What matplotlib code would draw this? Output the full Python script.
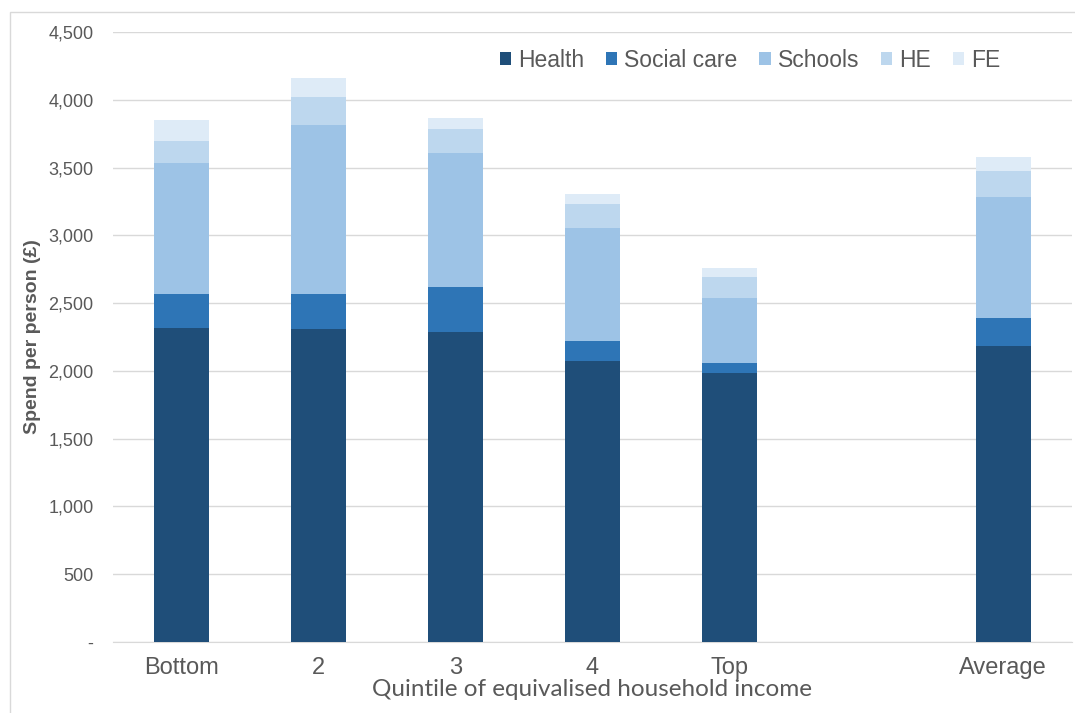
import numpy as np
import matplotlib.pyplot as plt
from matplotlib.patches import Rectangle

# spend per person (GBP) by income quintile, stacked by service
groups = ['Bottom', '2', '3', '4', 'Top', '', 'Average']
health = [2316, 2308, 2286, 2072, 1984, 0, 2183]
social_care = [250, 258, 332, 148, 74, 0, 206]
schools = [966, 1247, 988, 833, 479, 0, 893]
higher_ed = [163, 206, 177, 177, 155, 0, 191]
further_ed = [155, 141, 81, 74, 66, 0, 104]

series = [
    ('Health', health, '#1f4e79'),
    ('Social care', social_care, '#2e75b6'),
    ('Schools', schools, '#9dc3e6'),
    ('HE', higher_ed, '#bdd7ee'),
    ('FE', further_ed, '#deebf7'),
]

grey = '#595959'
fig = plt.figure(figsize=(10.75, 7.13), dpi=100)
ax = fig.add_axes([0.105, 0.0996, 0.892, 0.8555])

x = np.arange(len(groups))
bottom = np.zeros(len(groups))
for name, vals, col in series:
    vals = np.array(vals, dtype=float)
    ax.bar(x, vals, 0.4, bottom=bottom, color=col, label=name, zorder=3)
    bottom += vals

ax.set_xlim(-0.5, len(groups) - 0.5)
ax.set_ylim(0, 4500)
yt = np.arange(0, 4501, 500)
ax.set_yticks(yt)
ax.set_yticklabels(['-'] + [f'{v:,}' for v in yt[1:]],
                   fontsize=13, color=grey, family='Liberation Sans')
ax.set_xticks(x)
ax.set_xticklabels(groups, fontsize=17, color=grey, family='Liberation Sans')
ax.tick_params(axis='y', length=0, pad=14)
ax.tick_params(axis='x', length=0, pad=11)

ax.grid(axis='y', color='#d9d9d9', linewidth=1, zorder=0)
for s in ['top', 'right', 'left']:
    ax.spines[s].set_visible(False)
ax.spines['bottom'].set_color('#d9d9d9')

ax.set_ylabel('Spend per person (£)', fontsize=14, fontweight='bold',
              color=grey, family='Liberation Sans', labelpad=5)
ax.set_xlabel('Quintile of equivalised household income', fontsize=17.5,
              color=grey, family='Lato', labelpad=0)

leg = ax.legend(ncol=5, loc='upper right', bbox_to_anchor=(0.935, 0.988),
                borderaxespad=0, frameon=False, handlelength=0.5,
                handleheight=0.5, handletextpad=0.3, columnspacing=0.95,
                prop={'family': 'Liberation Sans', 'size': 16.5})
for t in leg.get_texts():
    t.set_color(grey)

# thin frame round the chart area
fig.patches.append(Rectangle((10 / 1075, -0.01), 1.1, (713 - 12) / 713 + 0.01,
                             transform=fig.transFigure, fill=False,
                             edgecolor='#d9d9d9', linewidth=1))

fig.savefig('out.png', dpi=100)
